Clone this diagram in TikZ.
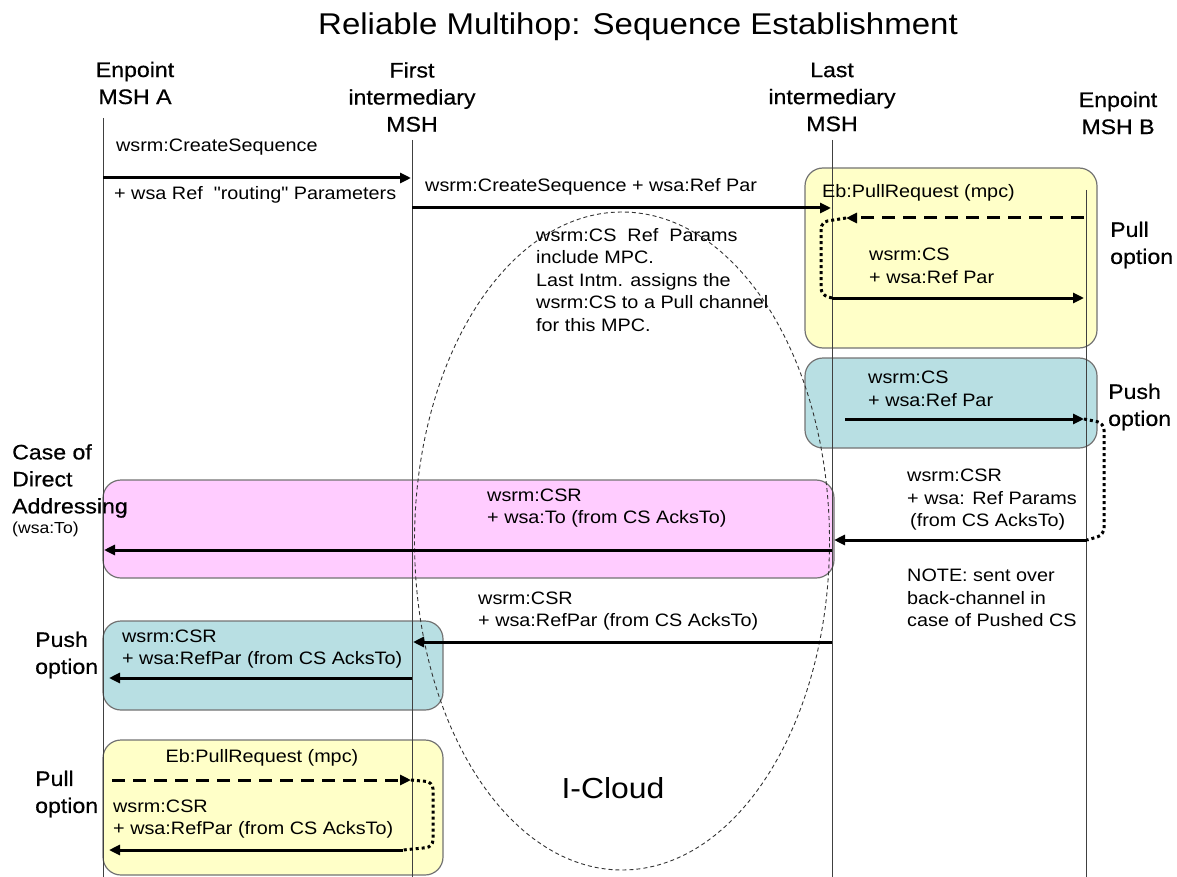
\documentclass[tikz,border=0pt]{standalone}
\usepackage{fontspec}
\setmainfont{Liberation Sans}[FakeStretch=1.1]
\newfontfamily\headface{Liberation Sans}[FakeStretch=1.1,FakeBold=0.6]
\usepackage{tikz}
\usetikzlibrary{arrows.meta,positioning,calc,shapes.geometric}
\definecolor{pullyellow}{RGB}{255,255,200}
\definecolor{pushteal}{RGB}{184,223,227}
\definecolor{directpink}{RGB}{255,204,255}
\tikzset{
  lifeline/.style={draw=black!75,line width=1pt},
  msg/.style={-{Triangle[length=11pt,width=10pt]},line width=3pt},
  pullmsg/.style={msg,dash pattern=on 13pt off 8pt},
  hop/.style={line width=3pt,dash pattern=on 3pt off 3pt,rounded corners=7pt},
  optbox/.style={draw=black!55,line width=1.2pt,rounded corners=18pt},
  lbl/.style={anchor=west,font=\fontsize{18}{22.5}\selectfont,align=left,inner sep=0pt},
  head/.style={font=\headface\fontsize{21}{27}\selectfont,align=center,inner sep=0pt},
  cloudline/.style={ellipse,draw=black!80,line width=0.9pt,dash pattern=on 4pt off 3pt}
}

\begin{document}
\begin{tikzpicture}[x=1pt,y=-1pt]
  \useasboundingbox (0,0) rectangle (1177,877);
  % option boxes
  \draw[optbox,fill=pullyellow] (805,168) rectangle (1097,348);
  \draw[optbox,fill=pushteal] (805,358) rectangle (1097,448);
  \draw[optbox,fill=directpink] (103,480) rectangle (834,578);
  \draw[optbox,fill=pushteal] (103,621) rectangle (443,710);
  \draw[optbox,fill=pullyellow] (103,740) rectangle (443,875);

  \node[font=\fontsize{30}{36}\selectfont,inner sep=0pt] (title) at (638,27) {Reliable Multihop: Sequence Establishment};
  \node[head] (mshA) at (135,83) {Enpoint\\MSH A};
  \node[head] (first) at (412,97) {First\\intermediary\\MSH};
  \node[head] (last) at (832,97) {Last\\intermediary\\MSH};
  \node[head] (mshB) at (1118,113) {Enpoint\\MSH B};

  % lifelines
  \coordinate (Atop) at (103,118);   \coordinate (Abot) at (103,877);
  \coordinate (Ftop) at (412,140);   \coordinate (Fbot) at (412,877);
  \coordinate (Ltop) at (832,140);   \coordinate (Lbot) at (832,877);
  \coordinate (Btop) at (1086,190);  \coordinate (Bbot) at (1086,877);
  \foreach \ll in {A,F,L,B}
    \draw[lifeline] (\ll top) -- (\ll bot);

  \node[cloudline,minimum width=415,minimum height=658] (icloud) at (622,541) {};
  \node[font=\fontsize{29}{32}\selectfont,inner sep=0pt] (icloudlbl) at (613,788) {I-Cloud};

  % create sequence
  \coordinate (cs1s) at (103,178);  \coordinate (cs1e) at (411,178);
  \draw[msg] (cs1s) -- (cs1e);
  \node[lbl] (cs1a) at (116,147) {wsrm:CreateSequence};
  \node[lbl] (cs1b) at (114,195) {+ wsa Ref\ \ {\addfontfeatures{Ligatures=TeXOff}"routing"} Parameters};
  \coordinate (cs2s) at (412,208);  \coordinate (cs2e) at (831,208);
  \draw[msg] (cs2s) -- (cs2e);
  \node[lbl] (cs2) at (425,187) {wsrm:CreateSequence + wsa:Ref Par};
  \node[lbl] (mpcnote) at (536,280) {wsrm:CS\ \ Ref\ \ Params\\include MPC.\\Last Intm. assigns the\\wsrm:CS to a Pull channel\\for this MPC.};

  % pull option, right
  \coordinate (pr1s) at (1084,218);  \coordinate (pr1e) at (846,218);
  \draw[pullmsg] (pr1s) -- (pr1e);
  \node[lbl] (pr1) at (822,193) {Eb:PullRequest (mpc)};
  \coordinate (cs3s) at (832,298);  \coordinate (cs3e) at (1084,298);
  \draw[hop] (pr1e) -- (821,222) -- (821,295) -- (cs3s);
  \draw[msg] (cs3s) -- (cs3e);
  \node[lbl] (cs3) at (869,266) {wsrm:CS\\+ wsa:Ref Par};
  \node[head,anchor=west,align=left] (pullR) at (1110,245) {Pull\\option};

  % push option, right
  \coordinate (cs4s) at (845,419);  \coordinate (cs4e) at (1084,419);
  \draw[msg] (cs4s) -- (cs4e);
  \node[lbl] (cs4) at (868,389) {wsrm:CS\\+ wsa:Ref Par};
  \node[head,anchor=west,align=left] (pushR) at (1108,407) {Push\\option};
  \coordinate (csr1s) at (1087,540);  \coordinate (csr1e) at (834,540);
  \draw[hop] (cs4e) -- (1104,423) -- (1104,535) -- (csr1s);
  \draw[msg] (csr1s) -- (csr1e);
  \node[lbl] (csr1) at (907,500) {wsrm:CSR\\+ wsa: Ref Params\\\hspace{3pt}(from CS AcksTo)};
  \node[lbl] (note) at (907,598) {NOTE: sent over\\back-channel in\\case of Pushed CS};

  % direct addressing
  \coordinate (csr2s) at (832,550);  \coordinate (csr2e) at (104,550);
  \draw[msg] (csr2s) -- (csr2e);
  \node[lbl] (csr2) at (487,508) {wsrm:CSR\\+ wsa:To (from CS AcksTo)};
  \node[head,anchor=west,align=left] (direct) at (12,481) {Case of\\Direct\\Addressing};
  \node[lbl,font=\fontsize{16}{20}\selectfont] (wsato) at (12,529) {(wsa:To)};

  % push option, left
  \coordinate (csr3s) at (832,642);  \coordinate (csr3e) at (413,642);
  \draw[msg] (csr3s) -- (csr3e);
  \node[lbl] (csr3) at (478,611) {wsrm:CSR\\+ wsa:RefPar (from CS AcksTo)};
  \coordinate (csr4s) at (412,678);  \coordinate (csr4e) at (109,678);
  \draw[msg] (csr4s) -- (csr4e);
  \node[lbl] (csr4) at (122,649) {wsrm:CSR\\+ wsa:RefPar (from CS AcksTo)};
  \node[head,anchor=west,align=left] (pushL) at (35,655) {Push\\option};

  % pull option, left
  \coordinate (pr2s) at (112,780);  \coordinate (pr2e) at (411,780);
  \draw[pullmsg] (pr2s) -- (pr2e);
  \node[font=\fontsize{18}{22}\selectfont,inner sep=0pt] (pr2) at (262,758) {Eb:PullRequest (mpc)};
  \coordinate (csr5s) at (403,850);  \coordinate (csr5e) at (109,850);
  \draw[hop] (pr2e) -- (433,782) -- (433,847) -- (csr5s);
  \draw[msg] (csr5s) -- (csr5e);
  \node[lbl] (csr5) at (113,819) {wsrm:CSR\\+ wsa:RefPar (from CS AcksTo)};
  \node[head,anchor=west,align=left] (pullL) at (35,794) {Pull\\option};
\end{tikzpicture}
\end{document}
